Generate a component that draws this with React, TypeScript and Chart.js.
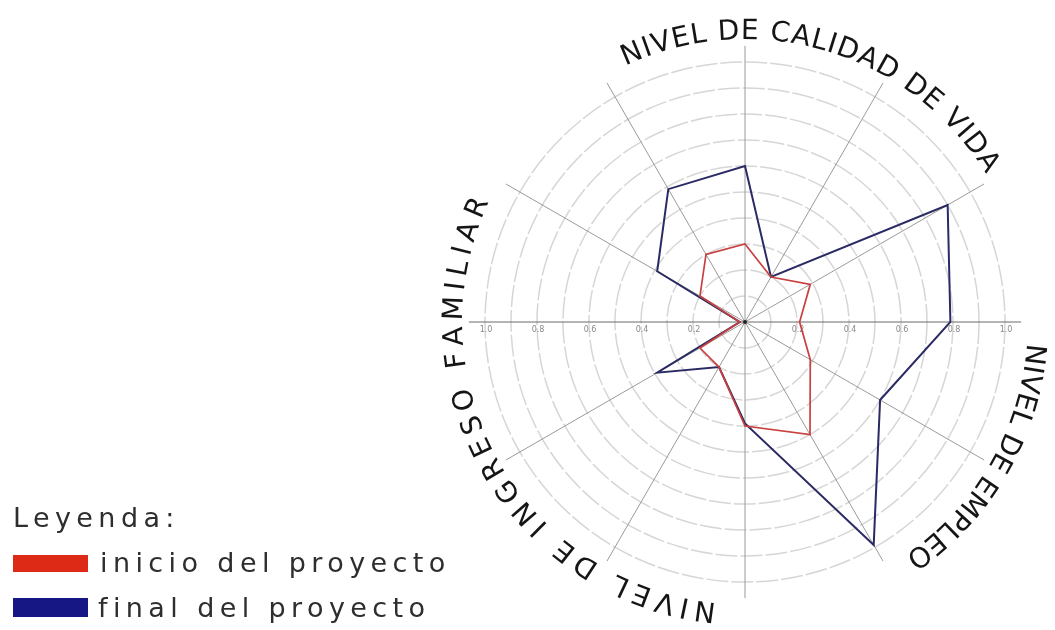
import React, { useEffect, useRef } from "react";
import { Chart, registerables } from "chart.js";

Chart.register(...registerables);

// ---------- data ----------
const CATEGORIES = [
  "Indicador 1", "Indicador 2", "Indicador 3", "Indicador 4",
  "Indicador 5", "Indicador 6", "Indicador 7", "Indicador 8",
  "Indicador 9", "Indicador 10", "Indicador 11", "Indicador 12",
];
const SERIES_NAMES = ["inicio del proyecto", "final del proyecto"];
const INICIO = [0.30, 0.20, 0.29, 0.21, 0.29, 0.50, 0.40, 0.20, 0.20, 0.02, 0.20, 0.30];
const FINAL = [0.60, 0.20, 0.90, 0.79, 0.60, 0.99, 0.39, 0.20, 0.39, 0.02, 0.39, 0.59];
const TICK_VALUES = [0.2, 0.4, 0.6, 0.8, 1.0];
const TICK_LABELS = ["0.2", "0.4", "0.6", "0.8", "1.0"];
const GROUP_LABELS = ["NIVEL DE CALIDAD DE VIDA", "NIVEL DE EMPLEO", "NIVEL DE INGRESO FAMILIAR"];
const LEGEND_TITLE = "Leyenda:";

// ---------- layout / style ----------
const GROUP_ARCS = [
  { start: -25, end: 58.5 },
  { start: 94.3, end: 145.6 },
  { start: 185.8, end: 295.1 },
];
const COLORS = { inicio: "#c8403f", final: "#2a2a64" };
const SWATCH = { inicio: "#dc2a16", final: "#161684" };

function drawArcText(ctx: CanvasRenderingContext2D, text: string, cx: number, cy: number, r: number, startDeg: number, endDeg: number) {
  const chars = Array.from(text);
  const widths = chars.map((c) => ctx.measureText(c).width);
  const total = widths.reduce((a, b) => a + b, 0);
  const arcLen = ((endDeg - startDeg) * Math.PI) / 180 * r;
  const extra = (arcLen - total) / (chars.length - 1);
  let off = 0;
  chars.forEach((c, i) => {
    const mid = off + widths[i] / 2;
    const a = (startDeg * Math.PI) / 180 + mid / r;
    ctx.save();
    ctx.translate(cx + r * Math.sin(a), cy - r * Math.cos(a));
    ctx.rotate(a);
    ctx.fillText(c, 0, 0);
    ctx.restore();
    off += widths[i] + extra;
  });
}

const decorPlugin = {
  id: "decor",
  beforeDatasetsDraw(chart: any) {
    const s = chart.scales.r;
    const ctx: CanvasRenderingContext2D = chart.ctx;
    const cx = s.xCenter;
    const cy = s.yCenter;
    const n = chart.data.labels.length;
    const rEnd = s.getDistanceFromCenterForValue(1.062);
    ctx.save();
    for (let i = 0; i < n; i++) {
      const p = s.getPointPosition(i, rEnd);
      ctx.beginPath();
      ctx.moveTo(cx, cy);
      ctx.lineTo(p.x, p.y);
      ctx.strokeStyle = i === 3 || i === 9 ? "#6a6a6a" : "#9a9a9a";
      ctx.lineWidth = 1;
      ctx.stroke();
    }
    ctx.font = "8px 'DejaVu Sans'";
    ctx.fillStyle = "#8a8a8a";
    ctx.textAlign = "center";
    ctx.textBaseline = "top";
    TICK_VALUES.forEach((v, k) => {
      const d = s.getDistanceFromCenterForValue(v);
      ctx.fillText(TICK_LABELS[k], cx + d + 1, cy + 4);
      ctx.fillText(TICK_LABELS[k], cx - d + 1, cy + 4);
    });
    ctx.restore();
  },
  afterDatasetsDraw(chart: any) {
    const s = chart.scales.r;
    const ctx: CanvasRenderingContext2D = chart.ctx;
    const cx = s.xCenter;
    const cy = s.yCenter;
    ctx.save();
    ctx.beginPath();
    ctx.arc(cx, cy, 2, 0, Math.PI * 2);
    ctx.fillStyle = "#222";
    ctx.fill();
    ctx.font = "28px 'DejaVu Sans'";
    ctx.fillStyle = "#151515";
    ctx.textAlign = "center";
    ctx.textBaseline = "alphabetic";
    const r = s.getDistanceFromCenterForValue(1.088);
    GROUP_LABELS.forEach((t, i) => {
      drawArcText(ctx, t, cx, cy, r, GROUP_ARCS[i].start, GROUP_ARCS[i].end);
    });
    ctx.restore();
  },
};

export default function App() {
  const ref = useRef<HTMLCanvasElement | null>(null);
  useEffect(() => {
    if (!ref.current) return;
    const chart = new Chart(ref.current, {
      type: "radar",
      data: {
        labels: CATEGORIES,
        datasets: [
          {
            label: SERIES_NAMES[0],
            data: INICIO,
            borderColor: COLORS.inicio,
            backgroundColor: "transparent",
            borderWidth: 1.7,
            fill: false,
            pointRadius: 0,
            tension: 0,
          },
          {
            label: SERIES_NAMES[1],
            data: FINAL,
            borderColor: COLORS.final,
            backgroundColor: "transparent",
            borderWidth: 2,
            fill: false,
            pointRadius: 0,
            tension: 0,
          },
        ],
      },
      options: {
        animation: false,
        responsive: false,
        devicePixelRatio: 1,
        layout: { padding: { left: 475, right: 40, top: 62, bottom: 48 } },
        plugins: { legend: { display: false }, tooltip: { enabled: false } },
        scales: {
          r: {
            min: 0,
            max: 1,
            ticks: { display: false, stepSize: 0.1 },
            pointLabels: { display: false },
            angleLines: { display: false },
            grid: { circular: true, color: "#d6d6d6", lineWidth: 1.5 },
            border: { dash: [22, 3] },
          },
        },
      },
      plugins: [decorPlugin],
    } as any);
    return () => chart.destroy();
  }, []);

  const textStyle: React.CSSProperties = {
    position: "absolute",
    fontFamily: "'DejaVu Sans', sans-serif",
    fontSize: 27,
    lineHeight: "27px",
    letterSpacing: "5.4px",
    color: "#2e2e2e",
    whiteSpace: "nowrap",
  };

  return (
    <div style={{ position: "fixed", left: 0, top: 0, width: 1055, height: 630, background: "#fff", overflow: "hidden" }}>
      <canvas ref={ref} width={1055} height={630} style={{ position: "absolute", left: 0, top: 0 }} />
      <div style={{ ...textStyle, left: 13, top: 504 }}>{LEGEND_TITLE}</div>
      <div style={{ position: "absolute", left: 13, top: 555, width: 75, height: 17, background: SWATCH.inicio }} />
      <div style={{ ...textStyle, left: 100, top: 549 }}>{SERIES_NAMES[0]}</div>
      <div style={{ position: "absolute", left: 13, top: 598, width: 75, height: 19, background: SWATCH.final }} />
      <div style={{ ...textStyle, left: 98, top: 594 }}>{SERIES_NAMES[1]}</div>
    </div>
  );
}
